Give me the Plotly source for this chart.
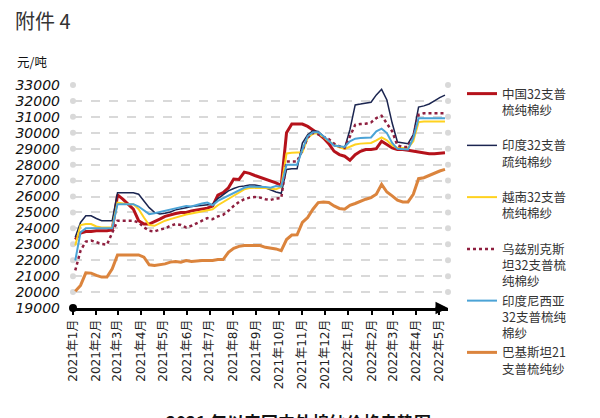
import pandas as pd
import plotly.graph_objects as go

dates = pd.date_range("2021-01-04", periods=71, freq="7D")

china = [23300,23700,23800,23800,23850,23850,23850,23900,26100,25830,
         25500,25200,24480,24270,24270,24400,24580,24750,24850,24930,
         25000,25000,25100,25160,25200,25270,25400,26080,26240,26550,
         27100,27070,27530,27450,27320,27200,27100,27000,26850,26700,
         30000,30550,30570,30550,30400,30200,29950,29670,29320,28840,
         28630,28530,28280,28630,28840,28950,28950,29000,29470,29260,
         29050,28950,28950,28900,28840,28780,28700,28680,28680,28700,
         28740]
india = [23440,24370,24790,24790,24620,24480,24480,24480,26240,26240,
         26240,26240,26140,25720,25300,25000,24900,24950,25030,25160,
         25250,25300,25370,25410,25410,25470,25510,25870,26140,26350,
         26500,26620,26660,26720,26720,26660,26550,26410,26280,26200,
         27700,27740,27740,29360,29880,30130,30090,29780,29470,29200,
         29110,29050,30190,31750,31800,31860,31920,32380,32730,32060,
         30610,29420,29360,29320,29880,31610,31690,31810,32000,32210,
         32360]
vietnam = [22920,24210,24270,24270,24120,24060,24060,24060,25620,25560,
           25520,25520,25200,24680,24210,24160,24330,24480,24580,24680,
           24790,24870,24930,25000,25040,25100,25200,25450,25660,25830,
           26040,26240,26450,26530,26550,26550,26530,26490,26450,26600,
           28700,28740,28740,28780,29670,29940,29980,29710,29470,29260,
           29090,28990,29110,29260,29320,29360,29360,29530,29710,29530,
           29200,29050,29050,29050,29470,30670,30710,30710,30710,30710,
           30710]
uzbek = [21360,22600,23170,23230,23130,23020,22980,23750,24480,24480,
         24480,24480,24370,24060,23850,23810,23920,24000,24160,24270,
         24210,24060,24160,24310,24480,24640,24580,24750,24850,25100,
         25410,25660,25830,25930,25970,25930,25830,25790,25870,25900,
         28200,28200,28200,28900,29700,30000,29900,29750,29600,29320,
         29150,29050,29780,30500,30550,30570,30650,30920,31070,30610,
         30090,29200,29110,29110,29780,31130,31230,31230,31230,31230,
         31230]
indonesia = [21980,23750,24000,24000,24000,24000,24000,24000,25520,25520,
             25520,25520,25370,25100,24890,24950,25030,25100,25200,25290,
             25350,25410,25370,25470,25560,25620,25450,25720,25890,26080,
             26240,26410,26550,26620,26620,26620,26600,26550,26660,26620,
             28000,28000,28000,28950,29780,30030,30030,29780,29470,29200,
             29150,29110,29470,29630,29670,29670,29710,30090,30260,29980,
             29360,28990,28950,28950,29670,30920,30920,30920,30920,30920,
             30920]
pakistan = [20050,20420,21210,21190,21050,20940,20940,21460,22330,22330,
            22330,22330,22330,22190,21710,21670,21710,21770,21880,21920,
            21880,21980,21920,21960,21980,21980,21980,22040,22040,22500,
            22750,22870,22920,22920,22920,22920,22810,22750,22710,22600,
            23300,23580,23600,24370,24680,25200,25620,25660,25620,25410,
            25250,25200,25450,25560,25720,25830,25930,26140,26760,26280,
            26040,25770,25660,25660,26140,27120,27180,27330,27490,27600,
            27700]

names = ["中国32支普<br>梳纯棉纱<br>\u00a0",
         "印度32支普<br>疏纯棉纱<br>\u00a0",
         "越南32支普<br>梳纯棉纱<br>\u00a0",
         "乌兹别克斯<br>坦32支普梳<br>纯棉纱",
         "印度尼西亚<br>32支普梳纯<br>棉纱",
         "巴基斯坦21<br>支普梳纯纱<br>\u00a0"]

y_ticks = [19000, 20000, 21000, 22000, 23000, 24000, 25000, 26000,
           27000, 28000, 29000, 30000, 31000, 32000, 33000]
month_ticks = pd.date_range("2021-01-01", "2022-05-01", freq="MS")
month_labels = [f"{d.year}年{d.month}月" for d in month_ticks]

x_start = "2021-01-01"
x_end = "2022-05-13"

fig = go.Figure()

# grid end dots
grid_vals = y_ticks[1:]
fig.add_trace(go.Scatter(
    x=[x_start] * len(grid_vals) + [x_end] * len(grid_vals),
    y=grid_vals + grid_vals, mode="markers",
    marker=dict(color="#d9d9d9", size=6), showlegend=False,
    hoverinfo="skip", cliponaxis=False))

styles = [
    dict(color="#B5121B", width=3),
    dict(color="#1B2550", width=1.5),
    dict(color="#FFD21F", width=2),
    dict(color="#8E1F3F", width=2.5, dash="dot"),
    dict(color="#4BA3D6", width=2),
    dict(color="#DB843D", width=3),
]
series = [china, india, vietnam, uzbek, indonesia, pakistan]
for name, s, st in zip(names, series, styles):
    fig.add_trace(go.Scatter(x=dates, y=s, mode="lines", name=name, line=st))

# origin dot
fig.add_trace(go.Scatter(x=[x_start], y=[19000], mode="markers",
                         marker=dict(color="black", size=8), showlegend=False,
                         hoverinfo="skip", cliponaxis=False))

# helpers: screen pixel -> paper coords (plot area: x 73..448, y 85..308)
def px(x):
    return (x - 73) / 375
def py(y):
    return (308 - y) / 223

fig.update_layout(
    width=600, height=418,
    margin=dict(l=73, r=152, t=85, b=110, autoexpand=False),
    paper_bgcolor="white", plot_bgcolor="white",
    font=dict(family="Noto Sans CJK SC, sans-serif", color="#222"),
    showlegend=True,
    legend=dict(x=px(462), y=py(79), xanchor="left", yanchor="top",
                valign="top", font=dict(size=12.5, color="#333"),
                itemwidth=30, tracegroupgap=0, bgcolor="rgba(0,0,0,0)",
                maxheight=380),
    xaxis=dict(type="date", range=[x_start, x_end], automargin=False,
               tickvals=month_ticks, ticktext=month_labels, tickangle=-90,
               tickfont=dict(size=12, color="#222", family="DejaVu Sans, Noto Sans CJK SC"),
               showgrid=False, showline=True, linecolor="black", linewidth=2.5,
               ticks="outside", ticklen=4, tickcolor="black", tickwidth=1.5,
               zeroline=False),
    yaxis=dict(range=[19000, 33000], tickvals=y_ticks, tickformat="d", automargin=False,
               tickfont=dict(size=14, color="#111", family="DejaVu Sans", style="italic"),
               showgrid=True, gridcolor="#d9d9d9", griddash="dash", gridwidth=1.5,
               showline=False, zeroline=False, ticks="", ticklabelstandoff=12),
    annotations=[
        dict(text="附件 4", x=px(13), y=py(20), xref="paper", yref="paper",
             showarrow=False, font=dict(size=20, color="#333"),
             xanchor="left", yanchor="middle"),
        dict(text="元/吨", x=px(15), y=py(62), xref="paper", yref="paper",
             showarrow=False, font=dict(size=12.5, color="#111"),
             xanchor="left", yanchor="middle"),
        dict(text="2021 年以来国内外棉纱价格走势图", x=px(298), y=py(407),
             xref="paper", yref="paper", showarrow=False,
             font=dict(size=17, color="#111", weight="bold"),
             xanchor="center", yanchor="top"),
        dict(text="", xref="paper", yref="paper", x=1.0, y=0, ax=-14, ay=0,
             showarrow=True, arrowhead=2, arrowsize=1, arrowwidth=2.5,
             arrowcolor="black"),
    ],
)

fig.write_html("out.html", config={"displayModeBar": False},
               post_script="document.body.style.margin='0px';")
